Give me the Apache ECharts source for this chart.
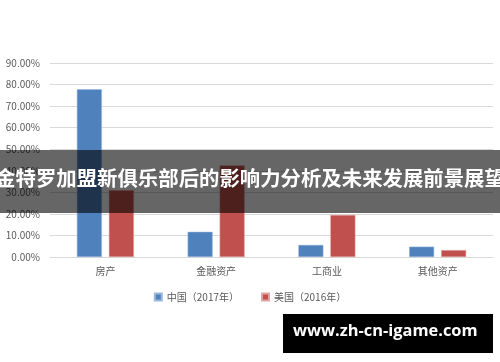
<!DOCTYPE html>
<html><head><meta charset="utf-8">
<script src="https://cdn.jsdelivr.net/npm/echarts@6/dist/echarts.min.js"></script>
<style>html,body{margin:0;padding:0;background:#fff}#c{width:500px;height:362px}</style>
</head><body><div id="c"></div>
<script>
const categories = ['房产', '金融资产', '工商业', '其他资产'];
const seriesNames = ['中国（2017年）', '美国（2016年）'];
const chinaValues = [0.778, 0.117, 0.056, 0.048];
const usaValues = [0.31, 0.425, 0.195, 0.032];
const yTicks = [0, 0.1, 0.2, 0.3, 0.4, 0.5, 0.6, 0.7, 0.8, 0.9];
const bannerText = '金特罗加盟新俱乐部后的影响力分析及未来发展前景展望';
const watermarkText = 'www.zh-cn-igame.com';

const font = '"Noto Sans CJK SC", "Noto Sans", sans-serif';
const chart = echarts.init(document.getElementById('c'), null, {renderer: 'canvas'});
chart.setOption({
  animation: false,
  textStyle: {fontFamily: font},
  grid: {left: 50, right: 7, top: 63, bottom: 105},
  legend: {
    data: seriesNames, bottom: 55, left: 'center', itemWidth: 7, itemHeight: 7, itemGap: 22,
    icon: 'rect', textStyle: {fontSize: 10, color: '#595959', fontFamily: font}
  },
  xAxis: {
    type: 'category', data: categories,
    axisLine: {lineStyle: {color: '#D9D9D9'}}, axisTick: {show: false},
    axisLabel: {color: '#595959', fontSize: 10, margin: 9}
  },
  yAxis: {
    type: 'value', min: yTicks[0], max: yTicks[yTicks.length - 1], interval: 0.1,
    axisLine: {show: false}, axisTick: {show: false},
    splitLine: {lineStyle: {color: '#D9D9D9'}},
    axisLabel: {color: '#595959', fontSize: 10, margin: 10, formatter: v => (v * 100).toFixed(2) + '%'}
  },
  series: [
    {name: seriesNames[0], type: 'bar', data: chinaValues, barWidth: 25, barGap: '28%',
     itemStyle: {color: '#4F81BD', borderColor: '#9DB8DA', borderWidth: 0.5}},
    {name: seriesNames[1], type: 'bar', data: usaValues, barWidth: 25,
     itemStyle: {color: '#C0504D', borderColor: '#E0A5A3', borderWidth: 0.5}}
  ],
  graphic: [
    {type: 'rect', left: 0, top: 150, z: 100, shape: {width: 500, height: 63}, style: {fill: 'rgba(0,0,0,0.6)'}},
    {type: 'text', left: 'center', top: 168, z: 101,
     style: {text: bannerText, fill: '#fff', font: 'bold 20.4px "Noto Sans CJK SC", sans-serif'}},
    {type: 'rect', left: 283, top: 314, z: 100, shape: {width: 210, height: 39}, style: {fill: '#000'}},
    {type: 'text', left: 293, top: 323, z: 101,
     style: {text: watermarkText, fill: '#fff', font: 'bold 16.4px "Open Sans", "DejaVu Sans", sans-serif'}}
  ]
});
</script></body></html>
